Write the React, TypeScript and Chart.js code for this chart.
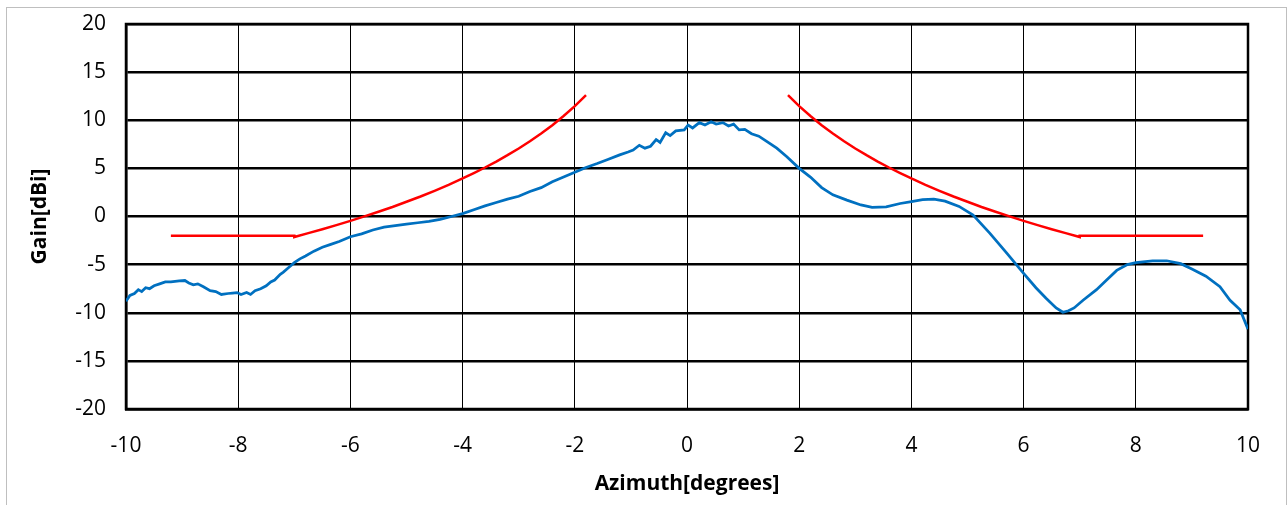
import React, { useEffect, useRef } from "react";
import { Chart, registerables } from "chart.js";

Chart.register(...registerables);

const xTitle = "Azimuth[degrees]";
const yTitle = "Gain[dBi]";

const blueAz = [
  -10.0, -9.93, -9.85, -9.78, -9.72, -9.65, -9.58, -9.5, -9.4, -9.3, -9.2, -9.05, -8.95, -8.88, -8.8,
  -8.72, -8.62, -8.5, -8.4, -8.3, -8.18, -8.1, -8.02, -7.95, -7.85, -7.78, -7.7, -7.6, -7.5, -7.42,
  -7.35, -7.25, -7.2, -7.1, -7.0, -6.9, -6.8, -6.65, -6.5, -6.35, -6.2, -6.0, -5.8, -5.6, -5.4, -5.2,
  -5.0, -4.8, -4.6, -4.4, -4.2, -4.0, -3.8, -3.6, -3.4, -3.2, -3.0, -2.8, -2.6, -2.4, -2.2, -2.0, -1.8,
  -1.6, -1.4, -1.2, -1.05, -0.96, -0.85, -0.75, -0.65, -0.55, -0.48, -0.38, -0.3, -0.2, -0.05, 0.02,
  0.1, 0.22, 0.32, 0.43, 0.52, 0.64, 0.74, 0.83, 0.93, 1.03, 1.15, 1.28, 1.42, 1.6, 1.78, 2.0, 2.2,
  2.4, 2.6, 2.85, 3.1, 3.3, 3.55, 3.8, 4.0, 4.2, 4.4, 4.6, 4.85, 5.1, 5.4, 5.7, 6.0, 6.22, 6.4, 6.58,
  6.7, 6.8, 6.9, 7.06, 7.3, 7.48, 7.66, 7.85, 8.0, 8.3, 8.55, 8.8, 9.0, 9.25, 9.5, 9.68, 9.86, 10.0,
];
const blueGain = [
  -8.8, -8.2, -8.0, -7.6, -7.8, -7.4, -7.5, -7.2, -7.0, -6.8, -6.8, -6.7, -6.65, -6.9, -7.1,
  -7.0, -7.3, -7.7, -7.8, -8.1, -8.0, -7.95, -7.9, -8.1, -7.9, -8.1, -7.7, -7.5, -7.2, -6.8,
  -6.6, -6.0, -5.8, -5.3, -4.8, -4.4, -4.1, -3.6, -3.2, -2.9, -2.6, -2.1, -1.8, -1.4, -1.1, -0.95,
  -0.8, -0.65, -0.5, -0.3, 0.0, 0.3, 0.7, 1.1, 1.45, 1.8, 2.1, 2.6, 3.0, 3.6, 4.1, 4.6, 5.1,
  5.5, 5.95, 6.4, 6.7, 6.9, 7.4, 7.1, 7.3, 8.0, 7.7, 8.7, 8.4, 8.9, 9.0, 9.5,
  9.2, 9.75, 9.5, 9.85, 9.6, 9.75, 9.4, 9.6, 9.0, 9.05, 8.6, 8.35, 7.8, 7.1, 6.2, 5.0, 4.1,
  3.0, 2.25, 1.7, 1.2, 0.95, 1.0, 1.35, 1.55, 1.75, 1.8, 1.6, 1.05, 0.15, -1.75, -3.8, -5.9, -7.4, -8.5, -9.5,
  -9.95, -9.8, -9.5, -8.7, -7.6, -6.6, -5.6, -5.0, -4.8, -4.6, -4.6, -4.9, -5.45, -6.2, -7.3, -8.7, -9.7, -11.7,
];

const maskAz = [
  -9.2, -7.0, -7.0, -6.75, -6.5, -6.25, -6.0, -5.75, -5.5, -5.25, -5.0, -4.75, -4.5, -4.25, -4.0,
  -3.8, -3.6, -3.4, -3.2, -3.0, -2.8, -2.6, -2.4, -2.2, -2.0, -1.8, 0,
  1.8, 2.0, 2.2, 2.4, 2.6, 2.8, 3.0, 3.2, 3.4, 3.6, 3.8, 4.0, 4.25, 4.5, 4.75, 5.0, 5.25, 5.5,
  5.75, 6.0, 6.25, 6.5, 6.75, 7.0, 7.0, 9.2,
];
const maskGain = [
  -2, -2, -2.13, -1.73, -1.32, -0.9, -0.45, 0.01, 0.49, 0.99, 1.53, 2.08, 2.67, 3.29, 3.95,
  4.51, 5.09, 5.71, 6.37, 7.07, 7.82, 8.63, 9.49, 10.44, 11.47, 12.62, null,
  12.62, 11.47, 10.44, 9.49, 8.63, 7.82, 7.07, 6.37, 5.71, 5.09, 4.51, 3.95, 3.29, 2.67, 2.08, 1.53, 0.99, 0.49,
  0.01, -0.45, -0.9, -1.32, -1.73, -2.13, -2, -2,
];

const FONT = '"Open Sans", "Liberation Sans", sans-serif';

const decor = {
  id: "decor",
  beforeDraw(chart: any) {
    const ctx = chart.ctx;
    ctx.save();
    ctx.fillStyle = "#ffffff";
    ctx.fillRect(0, 0, chart.width, chart.height);
    ctx.strokeStyle = "#bfbfbf";
    ctx.lineWidth = 1;
    ctx.strokeRect(6.5, 7.5, 1280, 520);
    ctx.restore();
  },
  beforeDatasetsDraw(chart: any) {
    const { ctx, chartArea: a } = chart;
    ctx.save();
    ctx.strokeStyle = "#000";
    ctx.lineWidth = 2.5;
    ctx.strokeRect(a.left, a.top, a.right - a.left, a.bottom - a.top);
    ctx.restore();
  },
  afterDraw(chart: any) {
    const { ctx, chartArea: a } = chart;
    ctx.save();
    ctx.fillStyle = "#000";
    ctx.font = `bold 21px ${FONT}`;
    ctx.textAlign = "center";
    ctx.textBaseline = "middle";
    ctx.fillText(xTitle, (a.left + a.right) / 2, 484);
    ctx.translate(40, (a.top + a.bottom) / 2);
    ctx.rotate(-Math.PI / 2);
    ctx.fillText(yTitle, 0, 0);
    ctx.restore();
  },
};

export default function App() {
  const ref = useRef<HTMLCanvasElement | null>(null);
  useEffect(() => {
    if (!ref.current) return;
    const chart = new Chart(ref.current, {
      type: "line",
      data: {
        datasets: [
          {
            label: "Measured",
            data: blueAz.map((x, i) => ({ x, y: blueGain[i] })),
            borderColor: "#0070C0",
            borderWidth: 2.75,
            pointRadius: 0,
            tension: 0,
          },
          {
            label: "Mask",
            data: maskAz.map((x, i) => ({ x, y: maskGain[i] })),
            borderColor: "#FF0000",
            borderWidth: 2.5,
            pointRadius: 0,
            tension: 0,
            spanGaps: false,
          },
        ],
      },
      plugins: [decor],
      options: {
        animation: false,
        responsive: false,
        devicePixelRatio: 1,
        layout: { padding: { top: 24, right: 40, left: 0, bottom: 0 } },
        plugins: { legend: { display: false }, tooltip: { enabled: false }, title: { display: false } },
        scales: {
          x: {
            type: "linear",
            min: -10,
            max: 10,
            afterFit: (s: any) => {
              s.height = 96;
              s.paddingLeft = 0;
              s.paddingRight = 0;
            },
            ticks: { stepSize: 2, color: "#000", padding: 24, font: { family: FONT, size: 21 }, maxRotation: 0 },
            grid: { color: "#000", lineWidth: 1, drawTicks: false },
            border: { display: true, color: "#000", width: 2.5 },
          },
          y: {
            min: -20,
            max: 20,
            afterFit: (s: any) => {
              s.width = 126;
              s.paddingTop = 0;
              s.paddingBottom = 0;
            },
            ticks: { stepSize: 5, color: "#000", padding: 20, font: { family: FONT, size: 21 } },
            grid: { color: "#000", lineWidth: 2.5, drawTicks: false },
            border: { display: true, color: "#000", width: 2.5 },
          },
        },
      },
    });
    return () => chart.destroy();
  }, []);
  return (
    <div style={{ position: "fixed", left: 0, top: 0, width: 1288, height: 505, background: "#fff" }}>
      <canvas ref={ref} width={1288} height={505} style={{ display: "block" }} />
    </div>
  );
}
